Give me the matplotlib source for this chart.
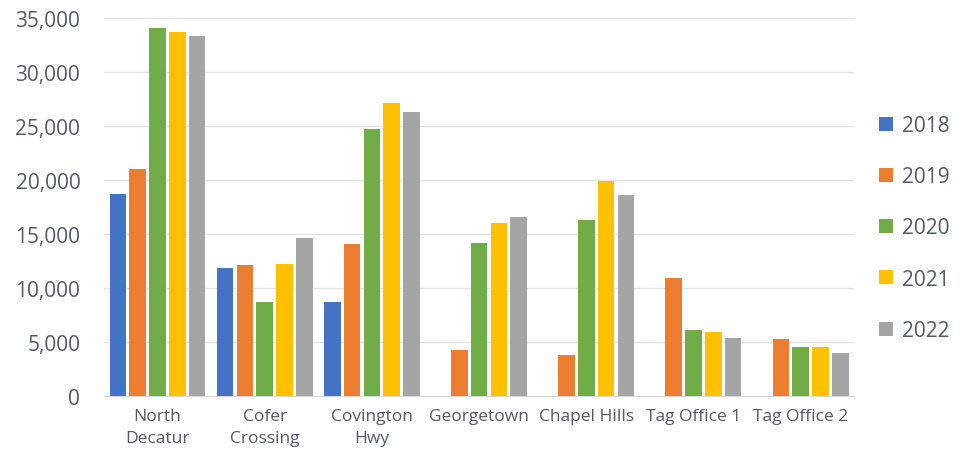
import matplotlib.pyplot as plt
import numpy as np

plt.rcParams['font.family'] = ['Open Sans', 'DejaVu Sans']

sites = ['North\nDecatur', 'Cofer\nCrossing', 'Covington\nHwy', 'Georgetown',
         'Chapel Hills', 'Tag Office 1', 'Tag Office 2']
years = ['2018', '2019', '2020', '2021', '2022']

v2018 = [18700, 11800, 8700, 0, 0, 0, 0]
v2019 = [21000, 12100, 14100, 4300, 3800, 10900, 5300]
v2020 = [34100, 8700, 24700, 14200, 16300, 6100, 4500]
v2021 = [33700, 12200, 27100, 16000, 19900, 5900, 4500]
v2022 = [33300, 14600, 26300, 16600, 18600, 5400, 4000]

colors = ['#4472C4', '#ED7D31', '#70AD47', '#FFC000', '#A5A5A5']
text_color = '#505a6b'

fig = plt.figure(figsize=(9.62, 4.6), dpi=100)
ax = fig.add_axes([0.108, 0.137, 0.78, 0.822])

x = np.arange(len(sites))
pitch = 0.185
width = 0.155
for i, (vals, yr) in enumerate(zip([v2018, v2019, v2020, v2021, v2022], years)):
    ax.bar(x + (i - 2) * pitch, vals, width, color=colors[i], label=yr, zorder=3)

ax.set_xlim(-0.5, len(sites) - 0.5)
ax.set_ylim(0, 35000)
ax.set_yticks(np.arange(0, 35001, 5000))
ax.set_yticklabels(['{:,}'.format(v) for v in range(0, 35001, 5000)])
ax.set_xticks(x)
ax.set_xticklabels(sites, linespacing=1.5)

ax.yaxis.grid(True, color='#e3e3e3', linewidth=1, zorder=0)
for side in ['top', 'right', 'left']:
    ax.spines[side].set_visible(False)
ax.spines['bottom'].set_color('#d9d9d9')
ax.tick_params(axis='y', length=0, pad=17, labelsize=15, labelcolor=text_color)
ax.tick_params(axis='x', length=0, pad=9, labelsize=12.5, labelcolor=text_color)

ax.legend(loc='upper left', bbox_to_anchor=(1.022, 0.765), frameon=False,
          fontsize=15, labelcolor=text_color, handlelength=0.65, handleheight=0.65,
          handletextpad=0.45, labelspacing=1.45, borderaxespad=0)

fig.savefig('out.png', dpi=100)
